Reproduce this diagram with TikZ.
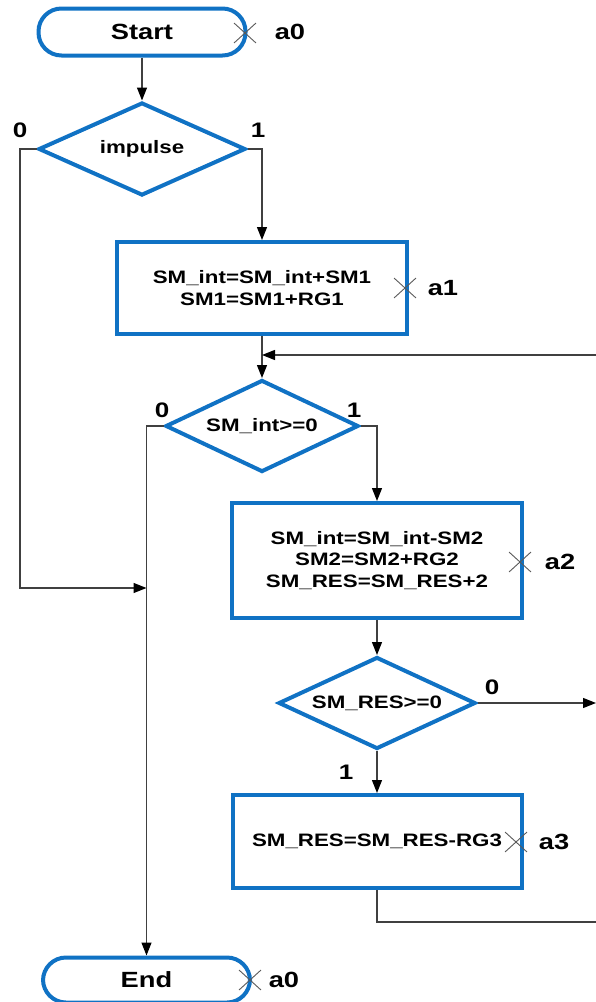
\documentclass[tikz,border=0pt]{standalone}
\usepackage{fontspec}
\setmainfont{Liberation Sans}[FakeStretch=1.24]
\usetikzlibrary{shapes.geometric,shapes.misc,arrows.meta}
\definecolor{fblue}{RGB}{16,114,196}
\definecolor{lgray}{RGB}{64,64,64}
\definecolor{xgray}{RGB}{90,90,90}
\begin{document}
\begin{tikzpicture}[x=1pt,y=-1pt,
  term/.style={draw=fblue,line width=4pt,rounded corners=23pt,minimum width=207pt,minimum height=47pt,inner sep=0pt,font=\bfseries\fontsize{22}{26}\selectfont},
  proc/.style={draw=fblue,line width=4pt,inner sep=0pt,align=center,font=\bfseries\fontsize{18}{21.5}\selectfont},
  dia/.style={draw=fblue,line width=4pt,shape=diamond,aspect=2.2,inner sep=0pt,font=\bfseries\fontsize{18}{21.5}\selectfont},
  lbl/.style={inner sep=0pt,font=\bfseries\fontsize{21}{24}\selectfont},
  albl/.style={inner sep=0pt,font=\bfseries\fontsize{22}{26}\selectfont},
  xmark/.style={cross out,draw=xgray,line width=0.9pt,minimum width=21pt,minimum height=19pt,inner sep=0pt},
  conn/.style={draw=lgray,line width=1.3pt},
  arr/.style={conn,-{Triangle[length=13pt,width=10pt,color=black]}}
]
\useasboundingbox (0,0) rectangle (596,1002);

% shapes
\node[term] (start) at (142,32) {Start};
\node[dia,minimum width=207pt,minimum height=93pt] (imp) at (142,149) {impulse};
\node[proc,minimum width=290pt,minimum height=92pt] (r1) at (262,288) {SM\_int=SM\_int+SM1\\SM1=SM1+RG1};
\node[dia,minimum width=193pt,minimum height=92pt] (d2) at (262,426) {SM\_int>=0};
\node[proc,minimum width=290pt,minimum height=115pt] (r2) at (377,560.5) {SM\_int=SM\_int-SM2\\SM2=SM2+RG2\\SM\_RES=SM\_RES+2};
\node[dia,minimum width=197pt,minimum height=92pt] (d3) at (377,703) {SM\_RES>=0};
\node[proc,minimum width=289pt,minimum height=93pt] (r3) at (377,841.5) {SM\_RES=SM\_RES-RG3};
\node[term,minimum height=45pt] (endn) at (146.5,980) {End};

% crosses and state labels
\node[xmark] (x0) at (245,33) {};
\node[albl] (a0) at (290,32) {a0};
\node[xmark] (x1) at (405,288) {};
\node[albl] (a1) at (443,288) {a1};
\node[xmark] (x2) at (520,562) {};
\node[albl] (a2) at (560,562) {a2};
\node[xmark] (x3) at (516,842) {};
\node[albl] (a3) at (554,842) {a3};
\node[xmark] (x4) at (250,980) {};
\node[albl] (a4) at (284,980) {a0};

% branch labels
\node[lbl] (i0) at (20,130) {0};
\node[lbl] (i1) at (258,130) {1};
\node[lbl] (e0) at (162,410) {0};
\node[lbl] (e1) at (354,410) {1};
\node[lbl] (f0) at (492,687) {0};
\node[lbl] (f1) at (346,772) {1};

% free ends
\coordinate (jl) at (20,588);
\coordinate (fbin) at (596,355);
\coordinate (out0) at (596,703);
\coordinate (loopout) at (596,922);

% connectors
\draw[arr] (start.south) -- (imp.north);
\draw[arr] (imp.east) -| (r1.north);
\draw[arr] (imp.west) -| (jl) -- (endn.north |- jl);
\draw[arr] (r1.south) -- (d2.north);
\draw[arr] (fbin) -- (r1.south |- fbin);
\draw[arr] (d2.east) -| (r2.north);
\draw[arr] (d2.west) -| (endn.north);
\draw[arr] (r2.south) -- (d3.north);
\draw[arr] (d3.south) -- (r3.north);
\draw[arr] (d3.east) -- (out0);
\draw[conn] (r3.south) |- (loopout);
\end{tikzpicture}
\end{document}
